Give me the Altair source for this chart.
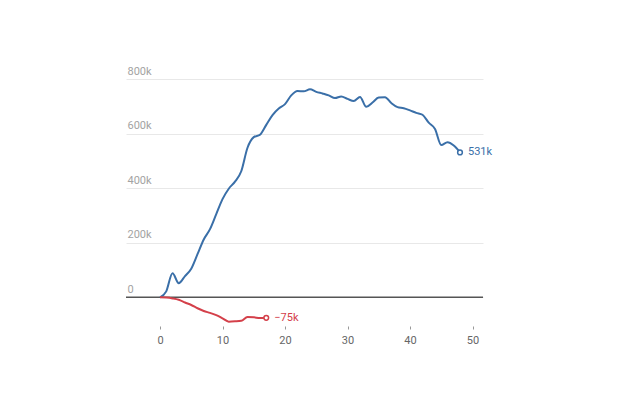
import altair as alt
import pandas as pd

# Blue series (x = 0..48)
blue_x = list(range(0, 49))
blue_y = [0, 22, 88, 52, 78, 105, 158, 212, 250, 305,
          360, 398, 424, 462, 548, 587, 596, 632, 668, 692,
          708, 740, 756, 755, 762, 753, 747, 740, 730, 736,
          727, 719, 734, 698, 714, 732, 733, 712, 697, 693,
          685, 676, 669, 640, 617, 558, 568, 556, 531]
# Red series (x = 0..17)
red_x = list(range(0, 18))
red_y = [0, -1, -4, -9, -19, -28, -40, -50, -57, -65,
         -77, -89, -88, -86, -72, -73, -76, -75]

series_names = ["blue", "red"]
series_colors = ["#3a6fa8", "#d4404a"]
end_labels = ["531k", "\u221275k"]

y_ticks = [0, 200000, 400000, 600000, 800000]
x_ticks = [0, 10, 20, 30, 40, 50]

rows = []
for x, y in zip(blue_x, blue_y):
    rows.append({"x": x, "y": y * 1000, "s": "blue"})
for x, y in zip(red_x, red_y):
    rows.append({"x": x, "y": y * 1000, "s": "red"})
df = pd.DataFrame(rows)

ends = pd.DataFrame({
    "x": [blue_x[-1], red_x[-1]],
    "y": [blue_y[-1] * 1000, red_y[-1] * 1000],
    "s": series_names,
    "label": end_labels,
})

xs = alt.Scale(domain=[-5.44, 51.68], nice=False, zero=False)
ys = alt.Scale(domain=[-105000, 800000], nice=False)
cs = alt.Scale(domain=series_names, range=series_colors)

x_enc = alt.X("x:Q", scale=xs, axis=alt.Axis(values=x_ticks, title=None, domain=False,
                                             grid=False, ticks=True, tickSize=3,
                                             tickColor="#999999", labelColor="#666666",
                                             labelFontSize=11, labelPadding=5))
y_enc = alt.Y("y:Q", scale=ys, axis=alt.Axis(values=y_ticks, title=None, domain=False,
                                             ticks=False, tickSize=0, grid=True,
                                             gridColor="#e8e8e8",
                                             labelExpr="datum.value == 0 ? '0' : format(datum.value / 1000, 'd') + 'k'",
                                             labelAlign="left", labelBaseline="bottom",
                                             labelPadding=-1, labelOffset=-3,
                                             labelColor="#a3a3a3", labelFontSize=11))

zero_df = pd.DataFrame({"x": [-5.44], "x2": [51.68], "y": [0]})
zero = alt.Chart(zero_df).mark_rule(color="#555555", strokeWidth=1.5).encode(
    x=alt.X("x:Q", scale=xs), x2="x2:Q", y=alt.Y("y:Q", scale=ys))

lines = alt.Chart(df).mark_line(strokeWidth=2, interpolate="monotone").encode(
    x=x_enc, y=y_enc,
    color=alt.Color("s:N", scale=cs, legend=None),
    detail="s:N",
)

pts = alt.Chart(ends).mark_point(shape="circle", filled=False, fill="white",
                                 fillOpacity=1, size=22, strokeWidth=1.5, opacity=1).encode(
    x=alt.X("x:Q", scale=xs), y=alt.Y("y:Q", scale=ys),
    color=alt.Color("s:N", scale=cs, legend=None))

txt = alt.Chart(ends).mark_text(align="left", baseline="middle", dx=8, fontSize=11).encode(
    x=alt.X("x:Q", scale=xs), y=alt.Y("y:Q", scale=ys),
    text="label:N",
    color=alt.Color("s:N", scale=cs, legend=None))

chart = alt.layer(zero, lines, pts, txt).properties(
    width=357, height=247,
    autosize=alt.AutoSizeParams(type="none"),
    padding={"left": 118, "top": 71, "right": 60, "bottom": 60},
).configure(font="Roboto", view=alt.ViewConfig(stroke=None))

chart.save("out.html", embed_options={"renderer": "svg", "actions": False})
